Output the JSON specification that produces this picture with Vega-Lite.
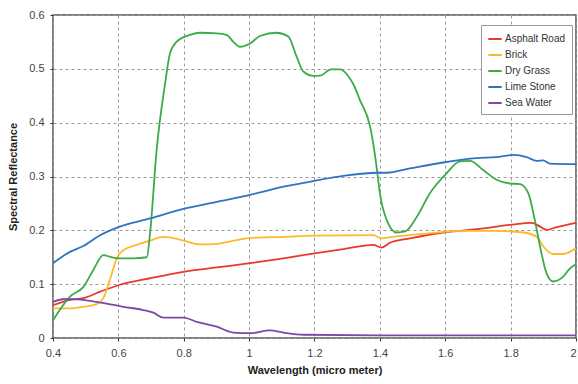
{
  "$schema": "https://vega.github.io/schema/vega-lite/v6.json",
  "width": 523,
  "height": 323,
  "autosize": {"type": "none"},
  "padding": {"left": 53, "top": 15, "right": 2, "bottom": 46},
  "background": "white",
  "config": {
    "view": {"stroke": "#555555", "strokeWidth": 1.5},
    "font": "Liberation Sans",
    "axis": {
      "labelFont": "Liberation Sans",
      "labelFontSize": 11,
      "labelColor": "#444444",
      "titleFont": "Liberation Sans",
      "titleFontSize": 11,
      "titleFontWeight": "bold",
      "titleColor": "#222222",
      "domain": false,
      "tickColor": "#333333",
      "tickSize": 3,
      "gridColor": "#9a9a9a",
      "gridDash": [3, 3],
      "gridWidth": 1
    }
  },
  "data": {
    "values": [
      {"m": "Asphalt Road", "w": 0.40, "r": 0.061},
      {"m": "Asphalt Road", "w": 0.452, "r": 0.071},
      {"m": "Asphalt Road", "w": 0.493, "r": 0.074},
      {"m": "Asphalt Road", "w": 0.544, "r": 0.086},
      {"m": "Asphalt Road", "w": 0.60, "r": 0.098},
      {"m": "Asphalt Road", "w": 0.697, "r": 0.111},
      {"m": "Asphalt Road", "w": 0.799, "r": 0.123},
      {"m": "Asphalt Road", "w": 0.901, "r": 0.131},
      {"m": "Asphalt Road", "w": 1.003, "r": 0.139},
      {"m": "Asphalt Road", "w": 1.105, "r": 0.148},
      {"m": "Asphalt Road", "w": 1.20, "r": 0.157},
      {"m": "Asphalt Road", "w": 1.288, "r": 0.165},
      {"m": "Asphalt Road", "w": 1.38, "r": 0.173},
      {"m": "Asphalt Road", "w": 1.405, "r": 0.168},
      {"m": "Asphalt Road", "w": 1.431, "r": 0.177},
      {"m": "Asphalt Road", "w": 1.492, "r": 0.185},
      {"m": "Asphalt Road", "w": 1.594, "r": 0.196},
      {"m": "Asphalt Road", "w": 1.696, "r": 0.202},
      {"m": "Asphalt Road", "w": 1.798, "r": 0.210},
      {"m": "Asphalt Road", "w": 1.864, "r": 0.214},
      {"m": "Asphalt Road", "w": 1.89, "r": 0.207},
      {"m": "Asphalt Road", "w": 1.91, "r": 0.201},
      {"m": "Asphalt Road", "w": 1.941, "r": 0.206},
      {"m": "Asphalt Road", "w": 2.0, "r": 0.214},

      {"m": "Brick", "w": 0.40, "r": 0.055},
      {"m": "Brick", "w": 0.452, "r": 0.055},
      {"m": "Brick", "w": 0.493, "r": 0.058},
      {"m": "Brick", "w": 0.534, "r": 0.063},
      {"m": "Brick", "w": 0.554, "r": 0.074},
      {"m": "Brick", "w": 0.574, "r": 0.108},
      {"m": "Brick", "w": 0.595, "r": 0.148},
      {"m": "Brick", "w": 0.615, "r": 0.163},
      {"m": "Brick", "w": 0.656, "r": 0.173},
      {"m": "Brick", "w": 0.697, "r": 0.181},
      {"m": "Brick", "w": 0.737, "r": 0.188},
      {"m": "Brick", "w": 0.758, "r": 0.187},
      {"m": "Brick", "w": 0.799, "r": 0.181},
      {"m": "Brick", "w": 0.850, "r": 0.174},
      {"m": "Brick", "w": 0.901, "r": 0.175},
      {"m": "Brick", "w": 0.962, "r": 0.182},
      {"m": "Brick", "w": 1.003, "r": 0.186},
      {"m": "Brick", "w": 1.105, "r": 0.188},
      {"m": "Brick", "w": 1.20, "r": 0.190},
      {"m": "Brick", "w": 1.38, "r": 0.191},
      {"m": "Brick", "w": 1.405, "r": 0.185},
      {"m": "Brick", "w": 1.441, "r": 0.188},
      {"m": "Brick", "w": 1.543, "r": 0.194},
      {"m": "Brick", "w": 1.645, "r": 0.199},
      {"m": "Brick", "w": 1.747, "r": 0.199},
      {"m": "Brick", "w": 1.839, "r": 0.196},
      {"m": "Brick", "w": 1.88, "r": 0.188},
      {"m": "Brick", "w": 1.90, "r": 0.170},
      {"m": "Brick", "w": 1.93, "r": 0.156},
      {"m": "Brick", "w": 1.961, "r": 0.156},
      {"m": "Brick", "w": 2.0, "r": 0.167},

      {"m": "Dry Grass", "w": 0.40, "r": 0.033},
      {"m": "Dry Grass", "w": 0.452, "r": 0.077},
      {"m": "Dry Grass", "w": 0.493, "r": 0.095},
      {"m": "Dry Grass", "w": 0.523, "r": 0.126},
      {"m": "Dry Grass", "w": 0.554, "r": 0.154},
      {"m": "Dry Grass", "w": 0.574, "r": 0.151},
      {"m": "Dry Grass", "w": 0.60, "r": 0.148},
      {"m": "Dry Grass", "w": 0.646, "r": 0.148},
      {"m": "Dry Grass", "w": 0.687, "r": 0.150},
      {"m": "Dry Grass", "w": 0.697, "r": 0.195},
      {"m": "Dry Grass", "w": 0.717, "r": 0.349},
      {"m": "Dry Grass", "w": 0.743, "r": 0.473},
      {"m": "Dry Grass", "w": 0.758, "r": 0.529},
      {"m": "Dry Grass", "w": 0.778, "r": 0.550},
      {"m": "Dry Grass", "w": 0.819, "r": 0.563},
      {"m": "Dry Grass", "w": 0.850, "r": 0.567},
      {"m": "Dry Grass", "w": 0.901, "r": 0.566},
      {"m": "Dry Grass", "w": 0.931, "r": 0.563},
      {"m": "Dry Grass", "w": 0.952, "r": 0.550},
      {"m": "Dry Grass", "w": 0.972, "r": 0.541},
      {"m": "Dry Grass", "w": 1.003, "r": 0.547},
      {"m": "Dry Grass", "w": 1.033, "r": 0.561},
      {"m": "Dry Grass", "w": 1.084, "r": 0.567},
      {"m": "Dry Grass", "w": 1.12, "r": 0.560},
      {"m": "Dry Grass", "w": 1.145, "r": 0.523},
      {"m": "Dry Grass", "w": 1.166, "r": 0.495},
      {"m": "Dry Grass", "w": 1.196, "r": 0.487},
      {"m": "Dry Grass", "w": 1.22, "r": 0.488},
      {"m": "Dry Grass", "w": 1.25, "r": 0.499},
      {"m": "Dry Grass", "w": 1.28, "r": 0.499},
      {"m": "Dry Grass", "w": 1.30, "r": 0.489},
      {"m": "Dry Grass", "w": 1.32, "r": 0.470},
      {"m": "Dry Grass", "w": 1.339, "r": 0.442},
      {"m": "Dry Grass", "w": 1.370, "r": 0.393},
      {"m": "Dry Grass", "w": 1.390, "r": 0.318},
      {"m": "Dry Grass", "w": 1.40, "r": 0.269},
      {"m": "Dry Grass", "w": 1.421, "r": 0.219},
      {"m": "Dry Grass", "w": 1.451, "r": 0.196},
      {"m": "Dry Grass", "w": 1.477, "r": 0.198},
      {"m": "Dry Grass", "w": 1.513, "r": 0.225},
      {"m": "Dry Grass", "w": 1.553, "r": 0.269},
      {"m": "Dry Grass", "w": 1.604, "r": 0.306},
      {"m": "Dry Grass", "w": 1.645, "r": 0.328},
      {"m": "Dry Grass", "w": 1.676, "r": 0.329},
      {"m": "Dry Grass", "w": 1.716, "r": 0.312},
      {"m": "Dry Grass", "w": 1.757, "r": 0.294},
      {"m": "Dry Grass", "w": 1.798, "r": 0.287},
      {"m": "Dry Grass", "w": 1.829, "r": 0.286},
      {"m": "Dry Grass", "w": 1.854, "r": 0.269},
      {"m": "Dry Grass", "w": 1.874, "r": 0.219},
      {"m": "Dry Grass", "w": 1.890, "r": 0.170},
      {"m": "Dry Grass", "w": 1.910, "r": 0.120},
      {"m": "Dry Grass", "w": 1.930, "r": 0.105},
      {"m": "Dry Grass", "w": 1.961, "r": 0.114},
      {"m": "Dry Grass", "w": 1.981, "r": 0.129},
      {"m": "Dry Grass", "w": 2.0, "r": 0.137},

      {"m": "Lime Stone", "w": 0.40, "r": 0.139},
      {"m": "Lime Stone", "w": 0.452, "r": 0.160},
      {"m": "Lime Stone", "w": 0.493, "r": 0.171},
      {"m": "Lime Stone", "w": 0.544, "r": 0.191},
      {"m": "Lime Stone", "w": 0.60, "r": 0.206},
      {"m": "Lime Stone", "w": 0.697, "r": 0.222},
      {"m": "Lime Stone", "w": 0.799, "r": 0.240},
      {"m": "Lime Stone", "w": 0.901, "r": 0.253},
      {"m": "Lime Stone", "w": 1.003, "r": 0.266},
      {"m": "Lime Stone", "w": 1.105, "r": 0.281},
      {"m": "Lime Stone", "w": 1.20, "r": 0.292},
      {"m": "Lime Stone", "w": 1.288, "r": 0.301},
      {"m": "Lime Stone", "w": 1.39, "r": 0.307},
      {"m": "Lime Stone", "w": 1.421, "r": 0.307},
      {"m": "Lime Stone", "w": 1.492, "r": 0.315},
      {"m": "Lime Stone", "w": 1.594, "r": 0.326},
      {"m": "Lime Stone", "w": 1.696, "r": 0.334},
      {"m": "Lime Stone", "w": 1.757, "r": 0.336},
      {"m": "Lime Stone", "w": 1.808, "r": 0.340},
      {"m": "Lime Stone", "w": 1.849, "r": 0.336},
      {"m": "Lime Stone", "w": 1.88, "r": 0.329},
      {"m": "Lime Stone", "w": 1.90, "r": 0.330},
      {"m": "Lime Stone", "w": 1.92, "r": 0.324},
      {"m": "Lime Stone", "w": 2.0, "r": 0.323},

      {"m": "Sea Water", "w": 0.40, "r": 0.067},
      {"m": "Sea Water", "w": 0.43, "r": 0.072},
      {"m": "Sea Water", "w": 0.473, "r": 0.072},
      {"m": "Sea Water", "w": 0.513, "r": 0.069},
      {"m": "Sea Water", "w": 0.564, "r": 0.064},
      {"m": "Sea Water", "w": 0.615, "r": 0.058},
      {"m": "Sea Water", "w": 0.676, "r": 0.052},
      {"m": "Sea Water", "w": 0.707, "r": 0.047},
      {"m": "Sea Water", "w": 0.737, "r": 0.038},
      {"m": "Sea Water", "w": 0.799, "r": 0.038},
      {"m": "Sea Water", "w": 0.840, "r": 0.030},
      {"m": "Sea Water", "w": 0.901, "r": 0.021},
      {"m": "Sea Water", "w": 0.952, "r": 0.010},
      {"m": "Sea Water", "w": 1.003, "r": 0.009},
      {"m": "Sea Water", "w": 1.064, "r": 0.014},
      {"m": "Sea Water", "w": 1.105, "r": 0.010},
      {"m": "Sea Water", "w": 1.166, "r": 0.006},
      {"m": "Sea Water", "w": 1.40, "r": 0.005},
      {"m": "Sea Water", "w": 1.70, "r": 0.005},
      {"m": "Sea Water", "w": 2.0, "r": 0.005}
    ]
  },
  "mark": {"type": "line", "strokeWidth": 1.8, "interpolate": "monotone", "clip": true},
  "encoding": {
    "x": {
      "field": "w", "type": "quantitative",
      "title": "Wavelength (micro meter)",
      "scale": {"domain": [0.4, 2.0], "nice": false, "zero": false},
      "axis": {
        "values": [0.4, 0.6, 0.8, 1.0, 1.2, 1.4, 1.6, 1.8, 2.0],
        "format": "~g",
        "labelPadding": 6,
        "titlePadding": 6,
        "labelFlush": false,
        "labelAlign": {"condition": {"test": "datum.value >= 2", "value": "right"}, "value": "center"}
      }
    },
    "y": {
      "field": "r", "type": "quantitative",
      "title": "Spectral Reflectance",
      "scale": {"domain": [0, 0.6], "nice": false},
      "axis": {"values": [0, 0.1, 0.2, 0.3, 0.4, 0.5, 0.6], "format": "~g", "labelPadding": 6, "titlePadding": 10}
    },
    "color": {
      "field": "m", "type": "nominal",
      "scale": {
        "domain": ["Asphalt Road", "Brick", "Dry Grass", "Lime Stone", "Sea Water"],
        "range": ["#e8392d", "#fdb92c", "#3aac4a", "#2f73c2", "#7e47a8"]
      },
      "legend": {
        "title": null,
        "orient": "none",
        "legendX": 428,
        "legendY": 10,
        "symbolType": "stroke",
        "symbolStrokeWidth": 2,
        "symbolSize": 180,
        "labelFont": "Liberation Sans",
        "labelFontSize": 10,
        "labelColor": "#333333",
        "labelOffset": 2,
        "rowPadding": 3,
        "padding": 6,
        "strokeColor": "#999999",
        "fillColor": "white",
        "cornerRadius": 0
      }
    }
  }
}
